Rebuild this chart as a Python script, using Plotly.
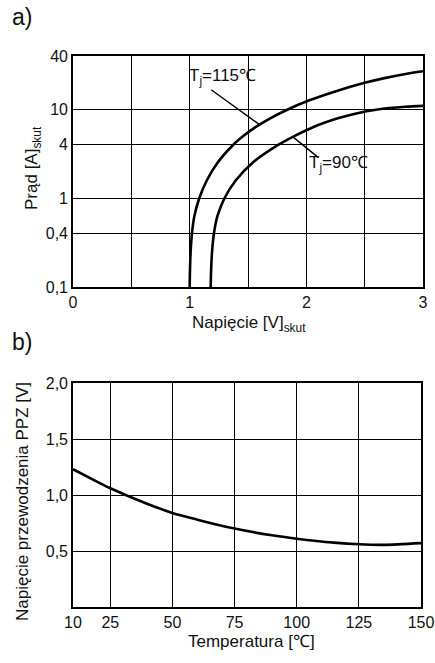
import numpy as np
import plotly.graph_objects as go

W, H = 435, 663

# Panel a) I-V characteristics (read from the reference)
u_115 = [1.0, 1.0029, 1.0084, 1.0192, 1.0405, 1.0822, 1.1464, 1.2389, 1.3721, 1.459, 1.564, 1.69,
         1.841, 2.021, 2.241, 2.5, 2.66, 2.85, 3.0]
i_115 = [0.1, 0.158, 0.251, 0.398, 0.631, 1.0, 1.585, 2.512, 3.981, 5.012, 6.31, 7.943,
         10.0, 12.59, 15.85, 19.95, 22.39, 25.12, 26.92]
u_90 = [1.18, 1.1841, 1.192, 1.2076, 1.2383, 1.2983, 1.3943, 1.5393, 1.7583, 1.897, 2.057, 2.27,
        2.41, 2.61, 2.85, 3.0]
i_90 = [0.1, 0.158, 0.251, 0.398, 0.631, 1.0, 1.585, 2.512, 3.981, 5.012, 6.31, 7.94,
        8.91, 10.0, 10.72, 10.96]
a_yticks = [0.1, 0.4, 1, 4, 10, 40]
a_yticktext = ["0,1", "0,4", "1", "4", "10", "40"]
a_xticks = [0, 1, 2, 3]
a_xminor = [0.5, 1.5, 2.5]

# Panel b) forward voltage vs temperature
temp = [10, 20, 25, 40, 50, 60, 75, 90, 100, 115, 125, 135, 150]
v_ppz = [1.23, 1.115, 1.06, 0.92, 0.84, 0.78, 0.70, 0.64, 0.61, 0.575, 0.56, 0.555, 0.57]
b_xticks = [10, 25, 50, 75, 100, 125, 150]
b_yticks = [0.5, 1.0, 1.5, 2.0]
b_yticktext = ["0,5", "1,0", "1,5", "2,0"]

FONT = "Liberation Sans, Arial, sans-serif"
LW = 2.6
TICK = 16
TITLE = 17

def px(x):
    return x / W

def py(y):
    return 1 - y / H

fig = go.Figure()
line = dict(color="black", width=LW, shape="spline", smoothing=0.8)
fig.add_trace(go.Scatter(x=u_115, y=i_115, mode="lines", line=line, xaxis="x", yaxis="y", showlegend=False))
fig.add_trace(go.Scatter(x=u_90, y=i_90, mode="lines", line=line, xaxis="x", yaxis="y", showlegend=False))
fig.add_trace(go.Scatter(x=temp, y=v_ppz, mode="lines", line=line, xaxis="x2", yaxis="y2", showlegend=False))

axcommon = dict(showline=True, linecolor="black", linewidth=1.6, mirror=True, automargin=False,
                showgrid=True, gridcolor="black", gridwidth=1.3, zeroline=False,
                ticks="", tickfont=dict(family=FONT, size=TICK, color="#111"))

fig.update_layout(
    width=W, height=H,
    margin=dict(l=0, r=0, t=0, b=0),
    paper_bgcolor="white", plot_bgcolor="white",
    font=dict(family=FONT, color="#111"),
    xaxis=dict(domain=[px(73), px(423)], range=[0, 3], tickvals=a_xticks,
               minor=dict(tickvals=a_xminor, showgrid=True, gridcolor="black", gridwidth=1.3, ticks=""),
               anchor="y", **axcommon),
    yaxis=dict(domain=[py(287), py(56)], type="log", range=[np.log10(0.1), np.log10(40)],
               tickvals=a_yticks, ticktext=a_yticktext, anchor="x", **axcommon),
    xaxis2=dict(domain=[px(73), px(421)], range=[10, 150], tickvals=b_xticks,
                anchor="y2", **axcommon),
    yaxis2=dict(domain=[py(607), py(383)], range=[0, 2.0], tickvals=b_yticks, ticktext=b_yticktext,
                anchor="x2", **axcommon),
)

ann = []
def text(x, y, t, size=TITLE, angle=0):
    ann.append(dict(x=px(x), y=py(y), xref="paper", yref="paper", text=t, showarrow=False,
                    font=dict(family=FONT, size=size, color="#111"), textangle=angle,
                    xanchor="center", yanchor="middle"))

text(22, 17, "a)", size=23)
text(22, 342, "b)", size=23)
text(33, 168, "Prąd [A]<sub>skut</sub>", angle=-90)
text(249, 324, "Napięcie [V]<sub>skut</sub>")
text(22, 502, "Napięcie przewodzenia PPZ [V]", angle=-90)
text(251, 641, "Temperatura [℃]")

# curve labels with leader lines
text(223, 77, "T<sub>j</sub>=115℃")
text(338, 164, "T<sub>j</sub>=90℃")

x_tip1 = 1.6
y_tip1 = 10 ** np.interp(x_tip1, u_115, np.log10(i_115))
x_tip2 = 1.885
y_tip2 = 10 ** np.interp(x_tip2, u_90, np.log10(i_90))
for xt, yt, ax, ay in [(x_tip1, y_tip1, -50, -36), (x_tip2, y_tip2, 27, 22)]:
    ann.append(dict(x=xt, y=np.log10(yt), xref="x", yref="y", text="", showarrow=True,
                    arrowhead=0, arrowwidth=1.4, arrowcolor="black", ax=ax, ay=ay, standoff=0,
                    startstandoff=0))

fig.update_layout(annotations=ann)
fig.write_html("out.html", config={"displayModeBar": False},
               post_script="document.body.style.margin='0';document.body.style.overflow='hidden';")
